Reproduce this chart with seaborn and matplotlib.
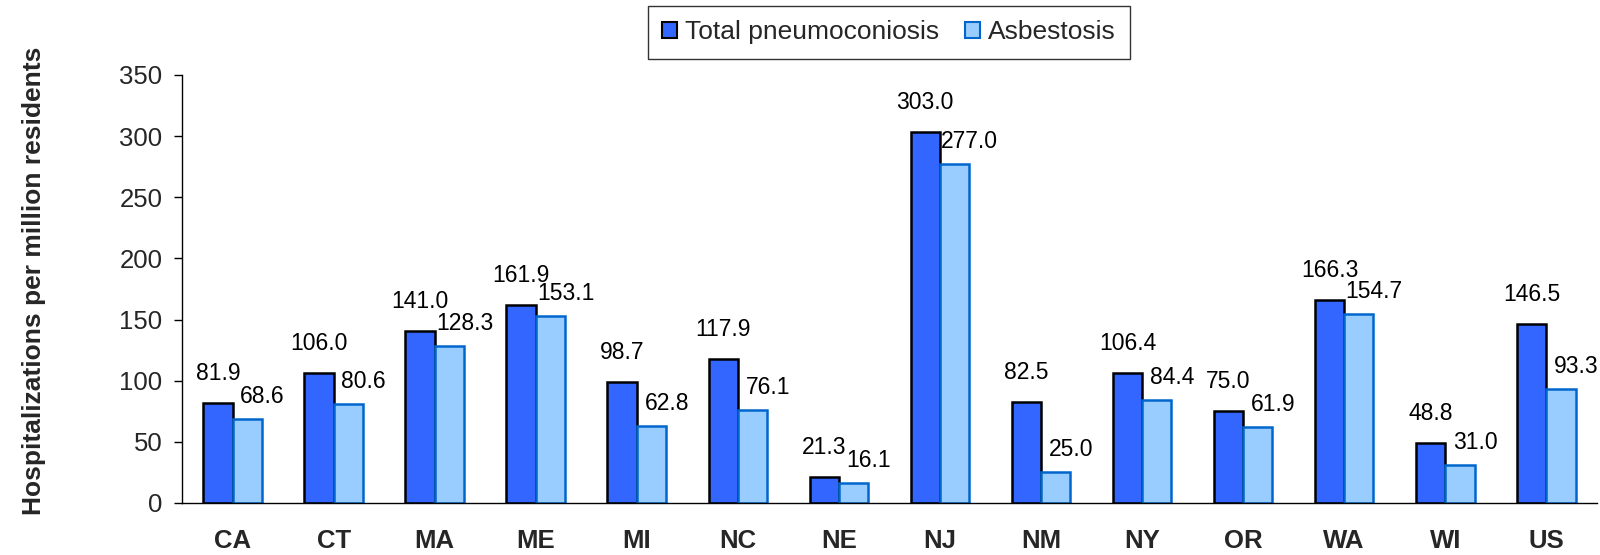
import matplotlib
matplotlib.use("Agg")
import matplotlib.pyplot as plt
import seaborn as sns
import pandas as pd
from matplotlib.patches import Patch

states = ["CA", "CT", "MA", "ME", "MI", "NC", "NE", "NJ", "NM", "NY", "OR", "WA", "WI", "US"]
total_pneumoconiosis = [81.9, 106.0, 141.0, 161.9, 98.7, 117.9, 21.3, 303.0, 82.5, 106.4, 75.0, 166.3, 48.8, 146.5]
asbestosis = [68.6, 80.6, 128.3, 153.1, 62.8, 76.1, 16.1, 277.0, 25.0, 84.4, 61.9, 154.7, 31.0, 93.3]
series_names = ["Total pneumoconiosis", "Asbestosis"]
y_ticks = [0, 50, 100, 150, 200, 250, 300, 350]

df = pd.DataFrame({
    "state": states * 2,
    "value": total_pneumoconiosis + asbestosis,
    "series": [series_names[0]] * len(states) + [series_names[1]] * len(states),
})

sns.set_style("white")
plt.rcParams["font.family"] = ["Liberation Sans", "DejaVu Sans"]

fill_colors = {series_names[0]: "#3366FF", series_names[1]: "#99CCFF"}
edge_colors = {series_names[0]: "#000000", series_names[1]: "#0066CC"}

fig = plt.figure(figsize=(16, 5.55), dpi=100)
ax = fig.add_axes([0.11375, 0.0937, 0.998 - 0.11375, 0.8649 - 0.0937])

sns.barplot(data=df, x="state", y="value", hue="series", order=states,
            hue_order=series_names, palette=fill_colors, width=0.58,
            ax=ax, legend=False, saturation=1)

for i, cont in enumerate(ax.containers):
    name = series_names[i]
    for bar in cont:
        bar.set_edgecolor(edge_colors[name])
        bar.set_linewidth(1.8)
    vals = total_pneumoconiosis if i == 0 else asbestosis
    for bar, v in zip(cont, vals):
        x = bar.get_x() + bar.get_width() / 2
        if i == 0:
            off = (0, 13)
        else:
            off = (11, 8)
        ax.annotate(f"{v:.1f}", (x, v), xytext=off, textcoords="offset points",
                    ha="center", va="bottom", fontsize=16.5, color="#000000")

ax.set_xlim(-0.5, len(states) - 0.5)
ax.set_ylim(0, 350)
ax.set_yticks(y_ticks)
ax.set_yticklabels([str(t) for t in y_ticks], fontsize=18.5)
ax.tick_params(axis="y", direction="out", length=6, width=1, color="#000000", pad=8, left=True)
ax.tick_params(axis="x", length=0, pad=19)
for lbl in ax.get_xticklabels():
    lbl.set_fontweight("bold")
    lbl.set_fontsize(18.5)
ax.set_xlabel("")
ax.set_ylabel("Hospitalizations per million residents", fontsize=19, fontweight="bold", labelpad=0)
ax.yaxis.set_label_coords(-0.096, 0.52)

sns.despine(ax=ax, top=True, right=True)
for s in ["left", "bottom"]:
    ax.spines[s].set_color("#000000")
    ax.spines[s].set_linewidth(1)

handles = [Patch(facecolor=fill_colors[n], edgecolor=edge_colors[n], linewidth=1.5) for n in series_names]
leg = fig.legend(handles, series_names, loc="upper center", bbox_to_anchor=(0.5555, 0.99),
                 ncol=2, fontsize=19, frameon=True, fancybox=False, edgecolor="#000000",
                 handlelength=0.55, handleheight=0.55, handletextpad=0.3, columnspacing=1.0,
                 borderpad=0.55, borderaxespad=0)
leg.get_frame().set_linewidth(1)

fig.savefig("out.png", dpi=100)
